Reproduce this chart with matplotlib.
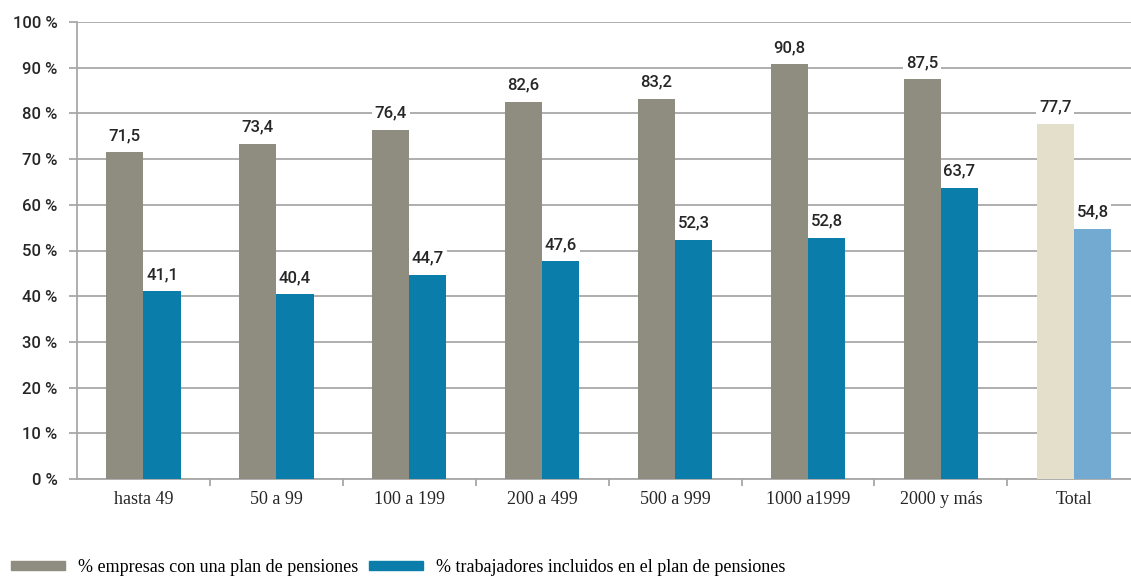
import matplotlib.pyplot as plt
import numpy as np
from matplotlib.patches import Patch

categories = ['hasta 49', '50 a 99', '100 a 199', '200 a 499', '500 a 999',
              '1000 a1999', '2000 y más', 'Total']
empresas = [71.5, 73.4, 76.4, 82.6, 83.2, 90.8, 87.5, 77.7]
trabajadores = [41.1, 40.4, 44.7, 47.6, 52.3, 52.8, 63.7, 54.8]
legend_labels = ['% empresas con una plan de pensiones',
                 '% trabajadores incluidos en el plan de pensiones']

GRAY = '#8f8c80'
BLUE = '#0b7dab'
BEIGE = '#e3dfcb'
LIGHT_BLUE = '#72aad2'
GRID = '#a8a8a8'
TEXT = '#262626'
WIDTH = 0.28


def fmt(v):
    return f'{v:.1f}'.replace('.', ',')


fig = plt.figure(figsize=(11.31, 5.78), dpi=100)
ax = fig.add_axes([77 / 1131, 1 - 479 / 578, 1 - 77 / 1131, (479 - 22) / 578])

x = np.arange(len(categories))
gray_colors = [GRAY] * (len(categories) - 1) + [BEIGE]
blue_colors = [BLUE] * (len(categories) - 1) + [LIGHT_BLUE]
ax.bar(x - WIDTH / 2, empresas, WIDTH, color=gray_colors, zorder=3)
ax.bar(x + WIDTH / 2, trabajadores, WIDTH, color=blue_colors, zorder=3)

label_box = dict(facecolor='white', edgecolor='none', pad=2)
for xi, v in zip(x, empresas):
    ax.text(xi - WIDTH / 2, v + 2.0, fmt(v), ha='center', va='bottom', fontsize=12,
            family='Roboto', weight='medium', color=TEXT, bbox=label_box, zorder=4)
for xi, v in zip(x, trabajadores):
    ax.text(xi + WIDTH / 2, v + 2.0, fmt(v), ha='center', va='bottom', fontsize=12,
            family='Roboto', weight='medium', color=TEXT, bbox=label_box, zorder=4)

ax.set_xlim(-0.5, 7.43)
ax.set_ylim(0, 100)
ax.set_yticks(range(0, 101, 10))
ax.set_yticklabels([f'{t} %' for t in range(0, 101, 10)], family='Roboto', fontsize=12,
                   weight='medium', color=TEXT)
ax.yaxis.grid(True, color=GRID, linewidth=1.3, zorder=0)
ax.tick_params(axis='y', length=6, color=GRID, width=1.3, pad=8)

ax.set_xticks(x)
ax.set_xticklabels(categories, family='Liberation Serif', fontsize=13, color=TEXT)
ax.set_xticks(np.arange(0.5, 7, 1), minor=True)
ax.tick_params(axis='x', which='major', length=0, pad=9)
ax.tick_params(axis='x', which='minor', length=5, color=GRID, width=1.3)

for side in ['top', 'right']:
    ax.spines[side].set_visible(False)
for side in ['left', 'bottom']:
    ax.spines[side].set_color(GRID)
    ax.spines[side].set_linewidth(1.3)

handles = [Patch(color=GRAY), Patch(color=BLUE)]
fig.legend(handles, legend_labels, loc='lower left', bbox_to_anchor=(0.0, -0.015), ncol=2,
           frameon=False, handlelength=3.0, handleheight=0.35, handletextpad=0.7,
           columnspacing=0.6, borderaxespad=0.2,
           prop={'family': 'Liberation Serif', 'size': 13})

fig.savefig('out.png', dpi=100)
